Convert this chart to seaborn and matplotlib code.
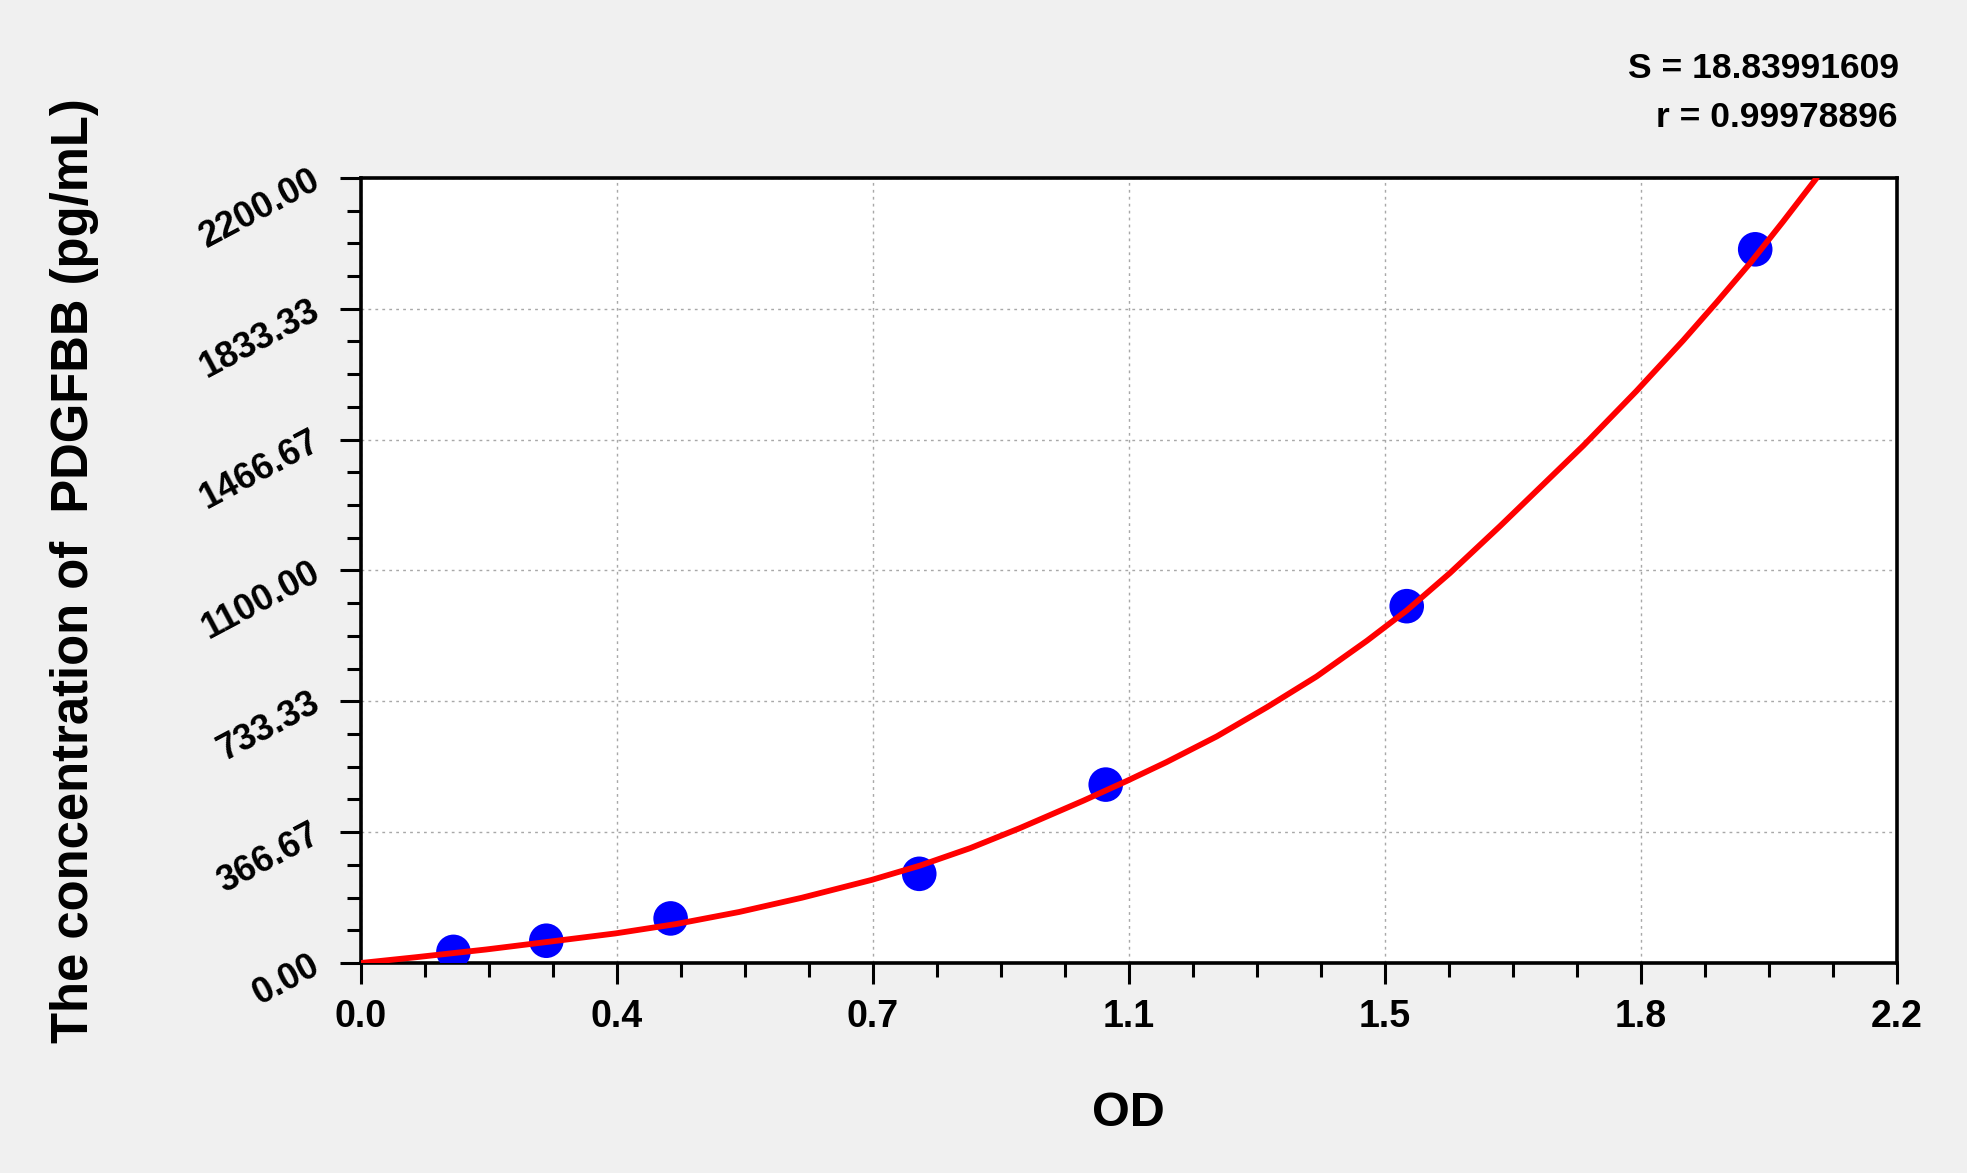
import numpy as np
import pandas as pd
import matplotlib
matplotlib.use("Agg")
import matplotlib.pyplot as plt
from matplotlib.ticker import AutoMinorLocator, FixedLocator, FixedFormatter
import seaborn as sns

# ---- data ----
od_values = [0.133, 0.266, 0.444, 0.800, 1.067, 1.498, 1.997]
conc_values = [31.25, 62.5, 125, 250, 500, 1000, 2000]

curve_od = [0.0, 0.078, 0.180, 0.271, 0.365, 0.451, 0.542, 0.632, 0.732, 0.801,
            0.873, 0.944, 1.035, 1.097, 1.154, 1.226, 1.298, 1.369, 1.441, 1.498,
            1.560, 1.632, 1.751, 1.827, 1.894, 1.942, 1.990, 2.037, 2.085]
curve_conc = [0, 16, 38, 60, 83, 109, 143, 183, 233, 273,
              322, 378, 455, 510, 563, 635, 717, 803, 903, 988,
              1093, 1225, 1450, 1603, 1745, 1852, 1962, 2078, 2200]

x_tick_values = [0.0, 0.36667, 0.73333, 1.1, 1.46667, 1.83333, 2.2]
x_tick_labels = ["0.0", "0.4", "0.7", "1.1", "1.5", "1.8", "2.2"]
y_tick_values = [0.0, 366.67, 733.33, 1100.0, 1466.67, 1833.33, 2200.0]
y_tick_labels = ["0.00", "366.67", "733.33", "1100.00", "1466.67", "1833.33", "2200.00"]

s_text = "S = 18.83991609"
r_text = "r = 0.99978896"
x_label = "OD"
y_label = "The concentration of  PDGFBB (pg/mL)"

points = pd.DataFrame({"OD": od_values, "conc": conc_values})
curve = pd.DataFrame({"OD": curve_od, "conc": curve_conc})

sns.set_style("white")
plt.rcParams["font.family"] = ["Liberation Sans", "DejaVu Sans"]
plt.rcParams["font.weight"] = "bold"
for k in ["text.color", "axes.labelcolor", "xtick.color", "ytick.color", "xtick.labelcolor", "ytick.labelcolor"]:
    plt.rcParams[k] = "black"

bg = "#f0f0f0"
fig = plt.figure(figsize=(19.67, 11.73), dpi=100, facecolor=bg)
ax = fig.add_axes([0.1833, 0.1790, 0.9644 - 0.1833, 0.8483 - 0.1790])
ax.set_facecolor("white")

sns.lineplot(data=curve, x="OD", y="conc", ax=ax, color="#ff0000", lw=4.2,
             sort=False, estimator=None, zorder=4)
sns.scatterplot(data=points, x="OD", y="conc", ax=ax, color="#0000ff", s=620,
                edgecolor="none", zorder=3)

ax.set_xlim(0, 2.2)
ax.set_ylim(0, 2200)

ax.xaxis.set_major_locator(FixedLocator(x_tick_values))
ax.xaxis.set_major_formatter(FixedFormatter(x_tick_labels))
ax.yaxis.set_major_locator(FixedLocator(y_tick_values))
ax.yaxis.set_major_formatter(FixedFormatter(y_tick_labels))
ax.xaxis.set_minor_locator(AutoMinorLocator(4))
ax.yaxis.set_minor_locator(AutoMinorLocator(4))

ax.tick_params(axis="both", which="major", direction="out", length=15, width=2.2,
               color="black", bottom=True, left=True, top=False, right=False)
ax.tick_params(axis="both", which="minor", direction="out", length=10, width=2.2,
               color="black", bottom=True, left=True, top=False, right=False)
ax.tick_params(axis="x", which="major", pad=11, labelsize=27)
ax.tick_params(axis="y", which="major", pad=16, labelsize=26)

for lab in ax.get_xticklabels():
    lab.set_fontweight("bold")
for lab in ax.get_yticklabels():
    lab.set_fontweight("bold")
    lab.set_rotation(28)
    lab.set_rotation_mode("anchor")
    lab.set_ha("right")
    lab.set_va("center")

for sp in ax.spines.values():
    sp.set_visible(True)
    sp.set_color("black")
    sp.set_linewidth(2.6)

ax.grid(True, which="major", color="#a8a8a8", linestyle=(0, (2, 3)), linewidth=1.0)
ax.set_axisbelow(True)

ax.set_xlabel(x_label, fontsize=35, fontweight="bold")
ax.xaxis.set_label_coords(0.5, -0.163)
ax.xaxis.label.set_va("top")
ax.set_ylabel(y_label, fontsize=36.5, fontweight="bold")
ax.yaxis.set_label_coords(-0.170, 0.5)

fig.text(0.9655, 0.9335, s_text, ha="right", va="baseline", fontsize=25.5,
         fontweight="bold")
fig.text(0.9645, 0.8917, r_text, ha="right", va="baseline", fontsize=25.5,
         fontweight="bold")

fig.savefig("out.png", dpi=100, facecolor=bg)
